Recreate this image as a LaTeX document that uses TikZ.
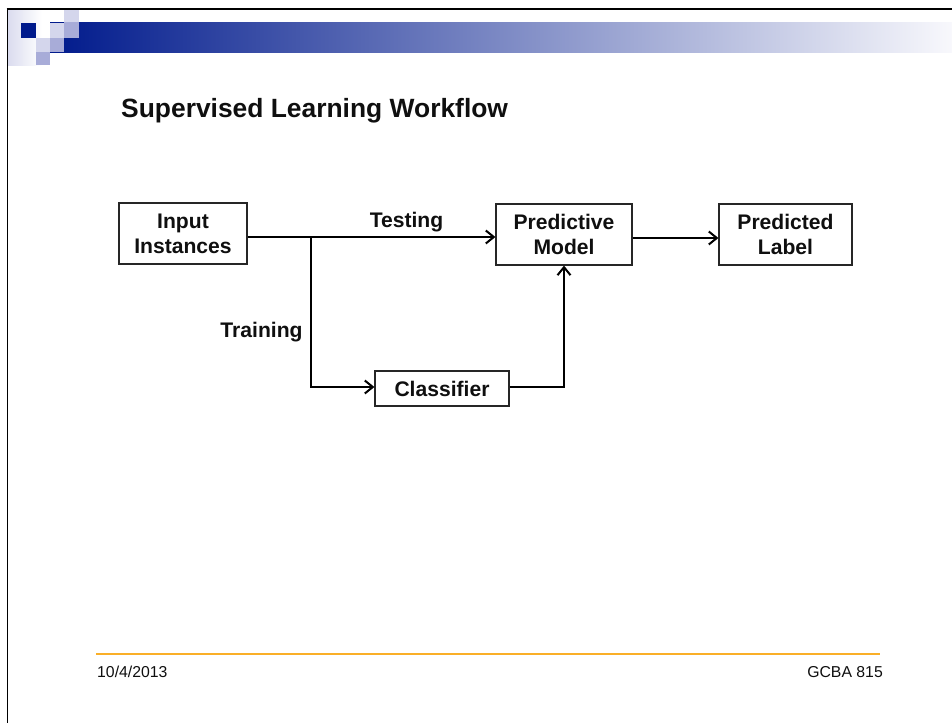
\documentclass[tikz,border=0pt]{standalone}
\usepackage{fontspec}
\setmainfont{Liberation Sans}
\usetikzlibrary{arrows.meta}
\definecolor{navy}{RGB}{0,26,140}
\definecolor{midlav}{RGB}{168,172,216}
\definecolor{litelav}{RGB}{212,214,236}
\definecolor{palelav}{RGB}{248,248,252}
\definecolor{footline}{RGB}{250,175,40}
\definecolor{textblack}{RGB}{15,15,15}

\begin{document}
\begin{tikzpicture}[x=1pt,y=-1pt,
  box/.style={draw=black!85, line width=1.2pt, inner sep=0pt, align=center,
    font=\fontsize{21.1}{25}\selectfont\bfseries, text=textblack},
  lbl/.style={inner sep=0pt, font=\fontsize{21.1}{25}\selectfont\bfseries, text=textblack},
  foot/.style={inner sep=0pt, font=\fontsize{15.8}{18}\selectfont, text=textblack},
  conn/.style={line width=2pt, black},
  arr/.style={conn, -{Straight Barb[length=8pt,width=13pt,line width=2pt]}}]

\useasboundingbox (0,0) rectangle (952,723);
\fill[white] (0,0) rectangle (952,723);

% header decoration: soft band, gradient bar and squares
\fill[left color=litelav!85, right color=white] (8,10) rectangle (42,65);
\fill[left color=navy, right color=palelav] (50,22) rectangle (952,52);
\fill[navy]    (21,23) rectangle (36,38);
\fill[litelav] (64,10) rectangle (79,22);
\fill[litelav] (50,23) rectangle (64,38);
\fill[midlav]  (64,22) rectangle (79,38);
\fill[litelav] (36,38) rectangle (50,52);
\fill[midlav]  (50,38) rectangle (64,52);
\fill[midlav]  (36,52) rectangle (50,65);

% slide frame (top and left edges)
\draw[black, line width=2pt] (6.7,9) -- (952,9);
\draw[black, line width=1.6pt] (7.5,8) -- (7.5,723);

% title
\node[inner sep=0pt, anchor=base west, font=\fontsize{26.4}{30}\selectfont\bfseries, text=textblack]
  (title) at (121,117.5) {Supervised Learning Workflow};

% workflow boxes
\node[box, minimum width=128pt, minimum height=61pt] (in) at (183,233.5) {Input\\Instances};
\node[box, minimum width=136pt, minimum height=61pt] (pm) at (564,234.5) {Predictive\\Model};
\node[box, minimum width=133pt, minimum height=61pt] (pl) at (785.5,234.5) {Predicted\\Label};
\node[box, minimum width=134pt, minimum height=35pt] (cl) at (442,388.5) {Classifier};

% branch points
\coordinate (j) at (311,237);
\coordinate (jb) at (311,387);
\coordinate (k) at (564,387);

% connectors
\draw[arr] (in.east |- j) -- (pm.west |- j);
\draw[arr] (j) -- (jb) -- (cl.west |- jb);
\draw[arr] (cl.east |- k) -- (k) -- (pm.south);
\draw[arr] (pm.east |- 0,238) -- (pl.west |- 0,238);

% connector labels
\node[lbl] (testlbl) at (406.5,222) {Testing};
\node[lbl] (trainlbl) at (261.5,332) {Training};

% footer
\draw[footline, line width=1.2pt] (96,654) -- (880,654);
\node[foot, anchor=base west] (date) at (97,677) {10/4/2013};
\node[foot, anchor=base east] (course) at (883,677) {GCBA 815};
\end{tikzpicture}
\end{document}
